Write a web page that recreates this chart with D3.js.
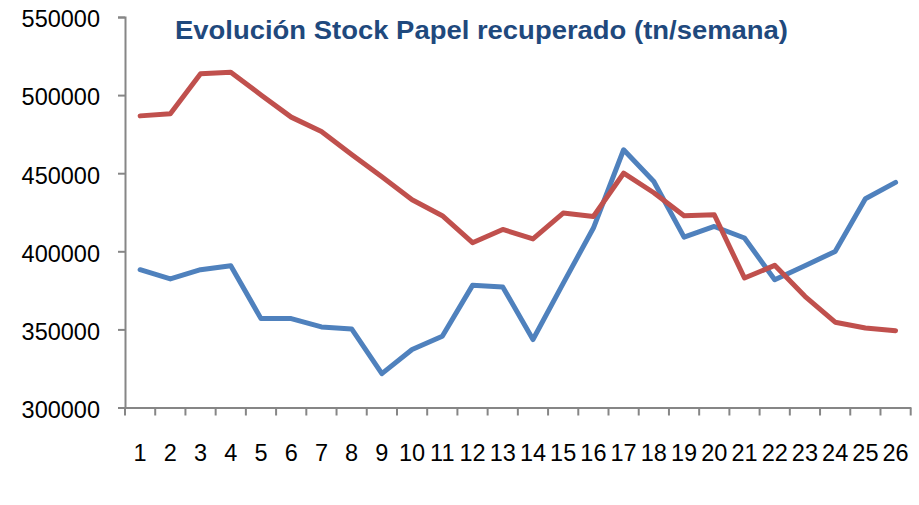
<!DOCTYPE html>
<html><head><meta charset="utf-8">
<script src="https://cdn.jsdelivr.net/npm/d3@7"></script>
<style>body{margin:0;background:#fff}svg{display:block}</style>
</head><body>
<svg id="c" width="919" height="505"></svg>
<script>
const weeks = d3.range(1, 27).map(String);
const seriesBlue = [388200,382300,388200,390800,356900,356900,351600,350300,321700,337100,345600,378200,377200,343500,379500,414900,465000,444700,409100,415900,408500,381800,390800,399900,433600,444100];
const seriesRed = [486700,488000,513600,514600,500100,485900,476700,462000,447700,433000,422800,405500,414000,407900,424500,422300,450000,437500,422800,423400,382900,391000,371200,354600,350900,349200];
const yTicks = [300000,350000,400000,450000,500000,550000];
const title = "Evolución Stock Papel recuperado (tn/semana)";

const svg = d3.select("#c");
const x = d3.scaleBand().domain(weeks).range([125, 910.7]);
const y = d3.scaleLinear().domain([300000, 550000]).range([407.5, 17]);
const font = "'Liberation Sans', Arial, sans-serif";

// y axis
const ya = svg.append("g").attr("transform","translate(125,0)")
  .call(d3.axisLeft(y).tickValues(yTicks).tickSize(7).tickPadding(18).tickFormat(d3.format("d")));
ya.select(".domain").attr("stroke","#868686").attr("stroke-width",2);
ya.selectAll(".tick line").attr("stroke","#868686").attr("stroke-width",2);
ya.selectAll(".tick text").attr("font-family",font).attr("font-size",23.5).attr("fill","#000").attr("dy","0.42em");

// x axis
const xa = svg.append("g").attr("transform","translate(0,407.5)")
  .call(d3.axisBottom(x).tickSize(0));
xa.select(".domain").attr("stroke","#868686").attr("stroke-width",2);
xa.selectAll(".tick text").attr("font-family",font).attr("font-size",23.5).attr("fill","#000").attr("y",53.5).attr("dy",0);
const bounds = weeks.map(w => x(w)).concat([x.range()[1]]);
xa.selectAll("line.bt").data(bounds).enter().append("line").attr("class","bt")
  .attr("x1", d=>d).attr("x2", d=>d).attr("y1",0).attr("y2",8)
  .attr("stroke","#868686").attr("stroke-width",2);

const line = d3.line().x((d,i)=>x(weeks[i]) + x.bandwidth()/2).y(d=>y(d));
svg.append("path").datum(seriesBlue).attr("d",line).attr("fill","none")
  .attr("stroke","#4F81BD").attr("stroke-width",5).attr("stroke-linejoin","round").attr("stroke-linecap","round");
svg.append("path").datum(seriesRed).attr("d",line).attr("fill","none")
  .attr("stroke","#C0504D").attr("stroke-width",5).attr("stroke-linejoin","round").attr("stroke-linecap","round");

svg.append("text").attr("x",175).attr("y",39).attr("font-family",font).attr("font-weight","bold")
  .attr("font-size",26.5).attr("fill","#1F497D").attr("textLength",613).attr("lengthAdjust","spacingAndGlyphs")
  .text(title);
</script>
</body></html>
